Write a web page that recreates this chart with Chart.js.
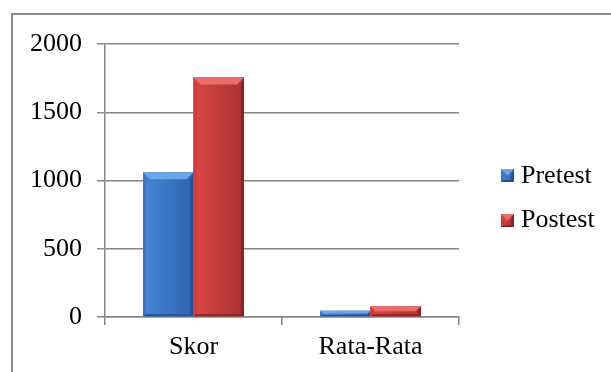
<!DOCTYPE html>
<html><head><meta charset="utf-8">
<script src="https://cdn.jsdelivr.net/npm/chart.js@4"></script>
<style>
html,body{margin:0;padding:0;background:#fff;width:611px;height:372px;overflow:hidden}
#frame{position:absolute;left:11px;top:13px;width:700px;height:500px;border:2px solid #8c8c8c}
#wrap{position:absolute;left:0;top:0;width:611px;height:372px}
</style></head><body>
<div id="frame"></div>
<div id="wrap"><canvas id="c" width="611" height="372"></canvas></div>
<script>
const categories = ['Skor', 'Rata-Rata'];
const pretest = [1060, 45];
const postest = [1755, 80];
const yTicks = [0, 500, 1000, 1500, 2000];
const seriesNames = ['Pretest', 'Postest'];

const FONT = "'Liberation Serif', 'Times New Roman', serif";
const FONT_SIZE = 26;
const GRID = '#868686';

const palettes = [
  { left: '#4686d6', right: '#2f63ae', top: '#6aa6e8', side: '#3b76c4', dark: '#24508f' },
  { left: '#dc4646', right: '#a93131', top: '#ec6c6c', side: '#cc3c3c', dark: '#8a2424' }
];

function bevelRect(ctx, l, t, r, b, p) {
  const h = b - t, w = r - l;
  if (h <= 0 || w <= 0) return;
  const k = Math.min(7, h / 2, w / 2);
  const s = Math.min(3, w / 4);
  const g = ctx.createLinearGradient(l, 0, r, 0);
  g.addColorStop(0, p.left);
  g.addColorStop(1, p.right);
  ctx.fillStyle = g;
  ctx.fillRect(l, t, w, h);
  const bb = Math.min(2, h / 4);
  // left edge
  ctx.fillStyle = p.side;
  ctx.beginPath();
  ctx.moveTo(l, t); ctx.lineTo(l + s, t + k); ctx.lineTo(l + s, b - bb); ctx.lineTo(l, b);
  ctx.closePath(); ctx.fill();
  // right edge
  ctx.fillStyle = p.dark;
  ctx.beginPath();
  ctx.moveTo(r, t); ctx.lineTo(r - s, t + k); ctx.lineTo(r - s, b - bb); ctx.lineTo(r, b);
  ctx.closePath(); ctx.fill();
  // bottom edge
  ctx.beginPath();
  ctx.moveTo(l, b); ctx.lineTo(l + s, b - bb); ctx.lineTo(r - s, b - bb); ctx.lineTo(r, b);
  ctx.closePath(); ctx.fill();
  // top bevel
  ctx.fillStyle = p.top;
  ctx.beginPath();
  ctx.moveTo(l, t); ctx.lineTo(r, t); ctx.lineTo(r - k, t + k); ctx.lineTo(l + k, t + k);
  ctx.closePath(); ctx.fill();
}

const bevelBars = {
  id: 'bevelBars',
  afterDatasetsDraw(chart) {
    const ctx = chart.ctx;
    ctx.save();
    chart.data.datasets.forEach((ds, i) => {
      const meta = chart.getDatasetMeta(i);
      meta.data.forEach(el => {
        const { x, y, base, width } = el.getProps(['x', 'y', 'base', 'width'], true);
        bevelRect(ctx, x - width / 2, Math.min(y, base), x + width / 2, Math.max(y, base), palettes[i]);
      });
    });
    ctx.restore();
  }
};

const sideLegend = {
  id: 'sideLegend',
  afterDraw(chart) {
    const ctx = chart.ctx;
    ctx.save();
    chart.data.datasets.forEach((ds, i) => {
      const by = 169 + i * 45;
      bevelRect(ctx, 501, by, 514, by + 13, palettes[i]);
      ctx.fillStyle = '#000';
      ctx.font = FONT_SIZE + 'px ' + FONT;
      ctx.textBaseline = 'alphabetic';
      ctx.textAlign = 'left';
      ctx.fillText(ds.label, 521, 183 + i * 44);
    });
    ctx.restore();
  }
};

new Chart(document.getElementById('c'), {
  type: 'bar',
  data: {
    labels: categories,
    datasets: [
      { label: seriesNames[0], data: pretest, backgroundColor: palettes[0].left },
      { label: seriesNames[1], data: postest, backgroundColor: palettes[1].left }
    ]
  },
  options: {
    responsive: false,
    animation: false,
    devicePixelRatio: 1,
    layout: { padding: { top: 44, right: 152, left: 0, bottom: 0 } },
    datasets: { bar: { categoryPercentage: 0.57, barPercentage: 1 } },
    plugins: { legend: { display: false }, tooltip: { enabled: false } },
    scales: {
      x: {
        offset: true,
        grid: { display: true, offset: true, drawOnChartArea: false, drawTicks: true, tickLength: 8, color: GRID, lineWidth: 1.5 },
        border: { display: true, color: GRID, width: 1.5 },
        ticks: { color: '#000', font: { family: FONT, size: FONT_SIZE }, padding: 7 },
        afterFit(s) { s.height = 55; }
      },
      y: {
        min: 0, max: 2000,
        afterBuildTicks(s) { s.ticks = yTicks.map(v => ({ value: v })); },
        grid: { color: GRID, lineWidth: 1.5, drawTicks: true, tickLength: 8 },
        border: { display: true, color: GRID, width: 1.5 },
        ticks: { color: '#000', font: { family: FONT, size: FONT_SIZE }, padding: 15, callback: v => String(v) },
        afterFit(s) { s.width = 105; }
      }
    }
  },
  plugins: [bevelBars, sideLegend]
});
</script>
</body></html>
